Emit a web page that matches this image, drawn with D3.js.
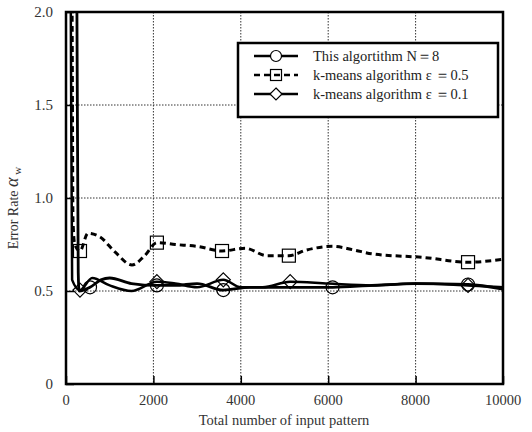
<!DOCTYPE html>
<html>
<head>
<meta charset="utf-8">
<script src="https://cdn.jsdelivr.net/npm/d3@7"></script>
<style>
  body { margin: 0; background: #fff; }
  svg text { font-family: "Liberation Serif", "Times New Roman", serif; }
</style>
</head>
<body>
<svg id="chart" width="532" height="432"></svg>
<script>
// values
const xTicks = [0, 2000, 4000, 6000, 8000, 10000];
const yTicks = [0, 0.5, 1.0, 1.5, 2.0];
const yTickLabels = ["0", "0.5", "1.0", "1.5", "2.0"];

// This algorithm N=8
const thisAlgX = [200, 250, 280, 300, 550, 800, 1000, 1500, 2080, 2500, 3000, 3600, 4200, 5000, 6100, 7000, 8000, 9200, 10000];
const thisAlgY = [3.0, 2.0, 0.6, 0.5, 0.52, 0.56, 0.57, 0.54, 0.53, 0.53, 0.54, 0.505, 0.52, 0.52, 0.52, 0.53, 0.54, 0.535, 0.51];
const thisAlgMarkX = [550, 2080, 3600, 6100, 9200];

// k-means eps=0.5
const km05X = [120, 140, 160, 200, 320, 500, 780, 1120, 1510, 1800, 2080, 2500, 3000, 3570, 4100, 4600, 5100, 5500, 6100, 6600, 7000, 8200, 9200, 10000];
const km05Y = [3.0, 2.0, 0.88, 0.75, 0.715, 0.81, 0.79, 0.71, 0.64, 0.69, 0.76, 0.75, 0.74, 0.715, 0.73, 0.69, 0.69, 0.72, 0.74, 0.72, 0.70, 0.68, 0.655, 0.67];
const km05MarkX = [320, 2080, 3570, 5100, 9200];

// k-means eps=0.1
const km01X = [90, 110, 140, 320, 600, 1000, 1500, 2080, 2500, 3000, 3600, 4000, 4500, 5130, 6000, 7000, 8000, 9200, 10000];
const km01Y = [3.0, 2.0, 0.56, 0.505, 0.57, 0.53, 0.50, 0.55, 0.54, 0.52, 0.56, 0.52, 0.52, 0.55, 0.54, 0.53, 0.54, 0.53, 0.52];
const km01MarkX = [320, 2080, 3600, 5130, 9200];

const svg = d3.select("#chart");
const mLeft = 66, mRight = 503, mTop = 12, mBottom = 384;

const x = d3.scaleLinear().domain([0, 10000]).range([mLeft, mRight]);
const y = d3.scaleLinear().domain([0, 2.0]).range([mBottom, mTop]);

svg.append("defs").append("clipPath").attr("id", "plot")
  .append("rect").attr("x", mLeft).attr("y", mTop)
  .attr("width", mRight - mLeft).attr("height", mBottom - mTop);

// grid
const grid = svg.append("g").attr("stroke", "#333").attr("stroke-width", 1)
  .attr("stroke-dasharray", "1.5,1.5");
xTicks.slice(1, -1).forEach(t => {
  grid.append("line").attr("x1", x(t)).attr("x2", x(t)).attr("y1", mTop).attr("y2", mBottom);
});
yTicks.slice(1, -1).forEach(t => {
  grid.append("line").attr("x1", mLeft).attr("x2", mRight).attr("y1", y(t)).attr("y2", y(t));
});

// inner ticks
const xAxis = d3.axisBottom(x).tickValues(xTicks).tickSize(-8).tickSizeOuter(0).tickFormat("");
svg.append("g").attr("transform", `translate(0,${mBottom})`).call(xAxis)
  .call(g => g.select(".domain").remove())
  .selectAll("line").attr("stroke", "#000").attr("stroke-width", 1.5);
const yAxis = d3.axisLeft(y).tickValues(yTicks).tickSize(-8).tickSizeOuter(0).tickFormat("");
svg.append("g").attr("transform", `translate(${mLeft},0)`).call(yAxis)
  .call(g => g.select(".domain").remove())
  .selectAll("line").attr("stroke", "#000").attr("stroke-width", 1.5);

// tick labels
svg.append("g").selectAll("text").data(xTicks).join("text")
  .attr("x", d => x(d)).attr("y", 405).attr("text-anchor", "middle")
  .attr("font-size", 14.5).attr("fill", "#333").text(d => d);
svg.append("g").selectAll("text").data(yTicks).join("text")
  .attr("x", 53).attr("y", d => y(d) + 5).attr("text-anchor", "end")
  .attr("font-size", 15).attr("fill", "#333").text((d, i) => yTickLabels[i]);

// axis titles
svg.append("text").attr("x", 284).attr("y", 425).attr("text-anchor", "middle")
  .attr("font-size", 14.5).attr("fill", "#333").text("Total number of input pattern");
const yt = svg.append("text").attr("transform", "translate(18,208) rotate(-90)")
  .attr("text-anchor", "middle").attr("font-size", 14).attr("fill", "#333");
yt.append("tspan").text("Error Rate ");
yt.append("tspan").attr("font-style", "italic").attr("font-size", 18).text("α");
yt.append("tspan").attr("font-size", 11).attr("dy", 3).text(" w");

// series
const series = [
  { xs: km01X, ys: km01Y, marks: km01MarkX, dash: null, width: 2.5, shape: "diamond" },
  { xs: thisAlgX, ys: thisAlgY, marks: thisAlgMarkX, dash: null, width: 2.8, shape: "circle" },
  { xs: km05X, ys: km05Y, marks: km05MarkX, dash: "6,4", width: 3, shape: "square" }
];
const line = d3.line().x(d => x(d[0])).y(d => y(d[1])).curve(d3.curveMonotoneX);
const plot = svg.append("g").attr("clip-path", "url(#plot)");

function marker(g, shape, cx, cy) {
  if (shape === "circle") {
    g.append("circle").attr("cx", cx).attr("cy", cy).attr("r", 6.5)
      .attr("fill", "none").attr("stroke", "#000").attr("stroke-width", 1.2);
  } else if (shape === "square") {
    g.append("rect").attr("x", cx - 6.5).attr("y", cy - 6.5).attr("width", 13).attr("height", 13)
      .attr("fill", "none").attr("stroke", "#000").attr("stroke-width", 1.2);
  } else {
    g.append("path").attr("d", `M${cx},${cy - 7}L${cx + 7},${cy}L${cx},${cy + 7}L${cx - 7},${cy}Z`)
      .attr("fill", "none").attr("stroke", "#000").attr("stroke-width", 1.2);
  }
}

series.forEach(s => {
  const pts = s.xs.map((v, i) => [v, s.ys[i]]);
  plot.append("path").datum(pts).attr("d", line).attr("fill", "none")
    .attr("stroke", "#000").attr("stroke-width", s.width)
    .attr("stroke-dasharray", s.dash);
  s.marks.forEach(m => {
    const i = s.xs.indexOf(m);
    marker(plot, s.shape, x(m), y(s.ys[i]));
  });
});

// frame
svg.append("rect").attr("x", mLeft).attr("y", mTop).attr("width", mRight - mLeft)
  .attr("height", mBottom - mTop).attr("fill", "none").attr("stroke", "#000").attr("stroke-width", 2.5);

// legend
const legendItems = [
  { label: "This algortithm N＝8", shape: "circle", dash: null },
  { label: "k-means algorithm  ε ＝0.5", shape: "square", dash: "6,4" },
  { label: "k-means algorithm  ε ＝0.1", shape: "diamond", dash: null }
];
const lg = svg.append("g");
lg.append("rect").attr("x", 238).attr("y", 43).attr("width", 260).attr("height", 74)
  .attr("fill", "#fff").attr("stroke", "#000").attr("stroke-width", 2.5);
legendItems.forEach((d, i) => {
  const cy = 56 + i * 19;
  lg.append("line").attr("x1", 254).attr("x2", 298).attr("y1", cy).attr("y2", cy)
    .attr("stroke", "#000").attr("stroke-width", 2.5).attr("stroke-dasharray", d.dash);
  if (d.shape === "circle") {
    lg.append("circle").attr("cx", 276).attr("cy", cy).attr("r", 5.5)
      .attr("fill", "#fff").attr("stroke", "#000").attr("stroke-width", 1.2);
  } else if (d.shape === "square") {
    lg.append("rect").attr("x", 270.5).attr("y", cy - 5.5).attr("width", 11).attr("height", 11)
      .attr("fill", "none").attr("stroke", "#000").attr("stroke-width", 1.2);
  } else {
    lg.append("path").attr("d", `M276,${cy - 6}L282,${cy}L276,${cy + 6}L270,${cy}Z`)
      .attr("fill", "#fff").attr("stroke", "#000").attr("stroke-width", 1.2);
  }
  lg.append("text").attr("x", 313).attr("y", cy + 5).attr("font-size", 14.5)
    .attr("fill", "#222").text(d.label);
});
</script>
</body>
</html>
